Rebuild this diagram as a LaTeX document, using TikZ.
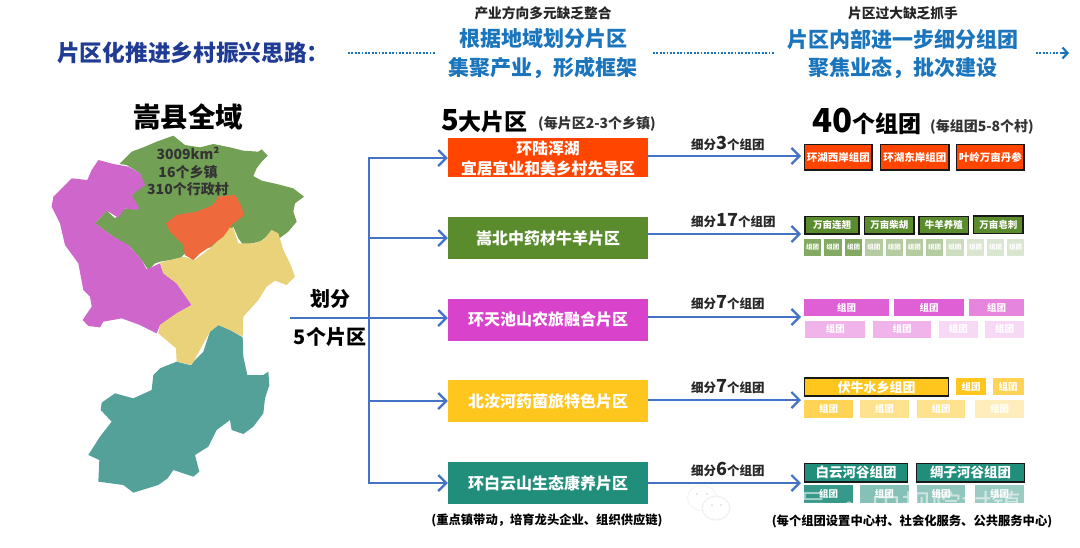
\documentclass[tikz,border=0pt]{standalone}
\usepackage{fontspec}
\setmainfont{Noto Sans CJK SC}
\usetikzlibrary{arrows.meta}
\newcommand{\fs}[1]{\fontsize{#1}{#1}\selectfont}
\definecolor{cblue}{HTML}{4472C4}
\definecolor{ctitle}{HTML}{1F3B94}
\definecolor{chead}{HTML}{1B75BC}
\definecolor{corange}{HTML}{FF4500}
\definecolor{cgreen}{HTML}{5A8C2E}
\definecolor{cmag}{HTML}{D943CC}
\definecolor{cyel}{HTML}{FFC61E}
\definecolor{cteal}{HTML}{218E7C}
\definecolor{mgreen}{HTML}{72A054}
\definecolor{mmag}{HTML}{CE66CB}
\definecolor{myel}{HTML}{EAD27B}
\definecolor{mor}{HTML}{EE6A3C}
\definecolor{mteal}{HTML}{54A19A}
\tikzset{
  zone/.style={fill=#1,minimum width=200pt,inner sep=0pt,text=white,font=\fs{16}\bfseries,align=center},
  txt/.style={inner sep=0pt,text=black,font=\fs{#1}\bfseries},
  link/.style={cblue,line width=2.2pt,-{Straight Barb[length=8pt,width=16pt,line width=2.2pt]}},
  trunk/.style={cblue,line width=2.2pt},
  dots/.style={chead,line width=2.4pt,dash pattern=on 1.8pt off 1.6pt},
  mapzone/.style={fill=#1,draw=none},
  head/.style={inner sep=0pt,text=chead,font=\fs{21}\bfseries},
  sub/.style={inner sep=0pt,text=black!85,font=\fs{13.7}\bfseries},
  maptxt/.style={inner sep=0pt,text=black!80,font=\fs{14}\bfseries}
}
% name, x1, x2, y1, y2, colour, text colour, font size, label
\newcommand{\grp}[9]{\node[fill=#6,text=#7,inner sep=0pt,font=\fs{#8}\bfseries,
  minimum width={(#3-#2)*1pt},minimum height={(#5-#4)*1pt}] (#1) at ({(#2+#3)/2},{(#4+#5)/2}) {#9};}
\newcommand{\grpb}[7]{\node[fill=#6,draw=black!90,line width=1.5pt,text=white,inner sep=0pt,font=\fs{#7}\bfseries,
  minimum width={(#3-#2)*1pt},minimum height={(#5-#4)*1pt}] (#1) at ({(#2+#3)/2},{(#4+#5)/2})}
\begin{document}
\begin{tikzpicture}[x=1pt,y=-1pt]
\useasboundingbox (0,0) rectangle (1080,547);
\fill[white] (0,0) rectangle (1080,547);

% header
\node[anchor=west,inner sep=0pt,text=ctitle,font=\fs{22.7}\bfseries] (title) at (57,53) {片区化推进乡村振兴思路：};
\node[sub] (s1) at (543,13) {产业方向多元缺乏整合};
\node[head] (h1) at (543,39) {根据地域划分片区};
\node[head] (h2) at (543,68) {集聚产业，形成框架};
\node[sub] (s2) at (903,13) {片区过大缺乏抓手};
\node[head] (h3) at (903,39) {片区内部进一步细分组团};
\node[head] (h4) at (903,68) {聚焦业态，批次建设};
\coordinate (d1a) at (348,53); \coordinate (d1b) at (436,53);
\coordinate (d2a) at (653,53); \coordinate (d2b) at (774,53);
\coordinate (d3a) at (1036,53); \coordinate (d3b) at (1069,53);
\draw[dots] (d1a) -- (d1b);
\draw[dots] (d2a) -- (d2b);
\draw[dots] (d3a) -- (1062,53);
\draw[chead,line width=2.2pt,-{Straight Barb[length=5pt,width=11pt,line width=2.2pt]}] (1060,53) -- (d3b);

% map
\begin{scope}[shift={(0,90)},x=0.33333pt,y=-0.33333pt]
\fill[mapzone=mteal] (655,705)--(690,720)--(728,742)--(730,800)--(742,855)--(790,855)--(805,845)--(808,885)--(795,925)--(790,970)--(760,1010)--(730,1032)--(695,1020)--(690,990)--(650,1020)--(625,1070)--(585,1095)--(598,1145)--(580,1160)--(520,1140)--(503,1165)--(475,1185)--(400,1208)--(370,1185)--(295,1175)--(298,1110)--(265,1095)--(300,1040)--(335,995)--(302,960)--(305,938)--(345,910)--(400,925)--(455,900)--(460,855)--(480,835)--(530,815)--(570,825)--(610,785)--(630,725)--cycle;
\fill[mapzone=mgreen] (358,222)--(395,185)--(430,172)--(470,155)--(520,137)--(555,165)--(600,172)--(640,162)--(690,172)--(730,182)--(775,185)--(785,178)--(803,197)--(785,215)--(770,235)--(760,258)--(785,272)--(830,282)--(880,295)--(912,320)--(885,340)--(880,365)--(890,395)--(865,425)--(838,445)--(815,420)--(800,440)--(780,455)--(730,465)--(715,445)--(700,410)--(640,470)--(555,490)--(540,505)--(480,515)--(465,520)--(445,540)--(425,510)--(390,470)--(340,440)--(285,400)--(320,362)--(345,385)--(375,355)--(410,358)--(395,315)--(430,285)--(420,250)--(380,225)--cycle;
\fill[mapzone=mmag] (295,210)--(340,222)--(385,230)--(420,250)--(435,285)--(395,315)--(418,355)--(405,360)--(375,355)--(355,383)--(320,362)--(285,400)--(340,440)--(385,465)--(425,510)--(440,538)--(480,520)--(490,550)--(530,580)--(575,645)--(530,670)--(480,705)--(470,730)--(420,705)--(365,685)--(310,695)--(300,712)--(265,708)--(248,690)--(275,650)--(270,620)--(250,600)--(235,520)--(195,465)--(180,400)--(155,350)--(160,320)--(215,265)--(262,270)--(275,240)--cycle;
\fill[mapzone=myel] (480,518)--(550,500)--(585,510)--(630,475)--(660,445)--(680,410)--(700,415)--(715,460)--(760,460)--(790,450)--(815,420)--(835,430)--(850,480)--(870,520)--(885,560)--(860,585)--(825,572)--(800,590)--(775,630)--(730,680)--(728,740)--(690,720)--(655,705)--(630,725)--(575,825)--(530,815)--(528,775)--(475,730)--(480,705)--(530,670)--(575,645)--(530,580)--(490,550)--cycle;
\fill[mapzone=mor] (655,320)--(705,315)--(722,345)--(733,375)--(695,405)--(670,440)--(630,470)--(600,490)--(580,510)--(555,495)--(550,465)--(510,425)--(498,400)--(530,375)--(590,365)--(640,345)--cycle;
\end{scope}
\node[txt=27.5] (county) at (188,117) {嵩县全域};
\node[maptxt] (m1) at (188,153) {3009km²};
\node[maptxt] (m2) at (188,172) {16个乡镇};
\node[maptxt] (m3) at (188,189) {310个行政村};
\node[txt=20] (div1) at (330,299) {划分};
\node[txt=20] (div2) at (330,337) {5个片区};

% zones
\node[zone=corange,minimum height=39pt] (b1) at (548,157.7) {};
\node[inner sep=0pt,text=white,font=\fs{15.8}\bfseries] (b1a) at (548,149) {环陆浑湖};
\node[inner sep=0pt,text=white,font=\fs{15.8}\bfseries] (b1b) at (548,168) {宜居宜业和美乡村先导区};
\node[zone=cgreen,minimum height=42pt] (b2) at (548,238) {嵩北中药材牛羊片区};
\node[zone=cmag,minimum height=42pt] (b3) at (548,319.5) {环天池山农旅融合片区};
\node[zone=cyel,minimum height=42pt] (b4) at (548,401) {北汝河药菌旅特色片区};
\node[zone=cteal,minimum height=42pt] (b5) at (548,483) {环白云山生态康养片区};

\node[anchor=base west,inner sep=0pt,font=\fs{23}\bfseries] (t5) at (441,130) {\fs{29}5\fs{23}大片区};
\node[anchor=west,inner sep=0pt,text=black!80,font=\fs{14}\bfseries] (t5b) at (538,124) {(每片区2-3个乡镇)};
\node[anchor=base west,inner sep=0pt,font=\fs{23}\bfseries] (t40) at (812,132) {\fs{33}40\fs{23}个组团};
\node[anchor=west,inner sep=0pt,text=black!80,font=\fs{14}\bfseries] (t40b) at (930,127) {(每组团5-8个村)};

% tree
\coordinate (stem) at (290,318);
\coordinate (top) at (369,158);
\coordinate (mid) at (369,318);
\coordinate (bot) at (369,483);
\coordinate (j2) at (369,238);
\coordinate (j4) at (369,401);
\draw[trunk] (stem) -- (mid);
\draw[link] (top) -- (b1.west |- top);
\draw[link] (j2) -- (b2.west);
\draw[link] (mid) -- (b3.west |- mid);
\draw[link] (j4) -- (b4.west);
\draw[link] (bot) -- (b5.west);
\draw[trunk] (369,157) -- (369,484);

% connectors to the groups
\coordinate (e1) at (801,156);
\coordinate (e2) at (801,234);
\coordinate (e3) at (801,317);
\coordinate (e4) at (801,400);
\coordinate (e5) at (801,483);
\draw[link] (b1.east |- e1) -- (e1);
\draw[link] (b2.east |- e2) -- (e2);
\draw[link] (b3.east |- e3) -- (e3);
\draw[link] (b4.east |- e4) -- (e4);
\draw[link] (b5.east |- e5) -- (e5);
\node[anchor=base west,inner sep=0pt,font=\fs{12.5}\bfseries,text=black!85] (f1) at (691,149) {细分{\fs{18}3}个组团};
\node[anchor=base west,inner sep=0pt,font=\fs{12.5}\bfseries,text=black!85] (f2) at (691,226) {细分{\fs{18}17}个组团};
\node[anchor=base west,inner sep=0pt,font=\fs{12.5}\bfseries,text=black!85] (f3) at (691,308) {细分{\fs{18}7}个组团};
\node[anchor=base west,inner sep=0pt,font=\fs{12.5}\bfseries,text=black!85] (f4) at (691,392) {细分{\fs{18}7}个组团};
\node[anchor=base west,inner sep=0pt,font=\fs{12.5}\bfseries,text=black!85] (f5) at (691,475) {细分{\fs{18}6}个组团};

% groups row 1
\grpb{g11}{804.5}{872}{144.5}{170}{corange}{10.5} {环湖西岸组团};
\grpb{g12}{880.5}{949}{144.5}{170}{corange}{10.5} {环湖东岸组团};
\grpb{g13}{956.5}{1024}{144.5}{170}{corange}{10.5} {叶岭万亩丹参};
% row 2
\grpb{g21}{805}{859}{216.5}{234}{cgreen}{9.5} {万亩连翘};
\grpb{g22}{864.5}{914}{216.5}{234}{cgreen}{9.5} {万亩柴胡};
\grpb{g23}{919}{968.5}{216.5}{234}{cgreen}{9.5} {牛羊养殖};
\grpb{g24}{973.5}{1023}{216}{233.5}{cgreen}{9.5} {万亩皂刺};
\grp{g31}{804}{821.3}{238.7}{256}{cgreen!75!white}{white}{6.5}{组团}
\grp{g32}{824.3}{841.6}{238.7}{256}{cgreen!75!white}{white}{6.5}{组团}
\grp{g33}{845}{862.3}{238.7}{256}{cgreen!75!white}{white}{6.5}{组团}
\grp{g34}{865.3}{882.6}{238.7}{256}{cgreen!45!white}{white}{6.5}{组团}
\grp{g35}{885.7}{903}{238.7}{256}{cgreen!45!white}{white}{6.5}{组团}
\grp{g36}{905.7}{923}{238.7}{256}{cgreen!45!white}{white}{6.5}{组团}
\grp{g37}{926}{943.3}{238.7}{256}{cgreen!45!white}{white}{6.5}{组团}
\grp{g38}{946.3}{963.6}{238.7}{256}{cgreen!30!white}{white}{6.5}{组团}
\grp{g39}{967}{984.3}{238.7}{256}{cgreen!22!white}{white}{6.5}{组团}
\grp{g310}{987}{1004.3}{238.7}{256}{cgreen!22!white}{white}{6.5}{组团}
\grp{g311}{1007.3}{1024}{238.7}{256}{cgreen!22!white}{white}{6.5}{组团}
% row 3
\grp{g41}{804}{889}{299}{316}{cmag!85!white}{white}{9.5}{组团}
\grp{g42}{894.3}{964}{299}{316}{cmag!85!white}{white}{9.5}{组团}
\grp{g43}{969.3}{1024}{299}{316}{cmag!65!white}{white}{9.5}{组团}
\grp{g44}{805.3}{865.3}{320.7}{338}{cmag!40!white}{white}{9.5}{组团}
\grp{g45}{872.7}{931.3}{320.7}{338}{cmag!40!white}{white}{9.5}{组团}
\grp{g46}{939}{977.7}{320.7}{338}{cmag!20!white}{white}{9.5}{组团}
\grp{g47}{985.3}{1024}{320.7}{338}{cmag!20!white}{white}{9.5}{组团}
% row 4
\grpb{g51}{804.5}{948.5}{378}{396}{cyel}{13} {伏牛水乡组团};
\grp{g52}{955.7}{986.3}{378}{395.3}{cyel}{white}{9.5}{组团}
\grp{g53}{992.7}{1023.7}{378}{395.3}{cyel!75!white}{white}{9.5}{组团}
\grp{g54}{804}{853}{400}{417.7}{cyel!75!white}{white}{9.5}{组团}
\grp{g55}{860}{908.7}{400}{417.7}{cyel!50!white}{white}{9.5}{组团}
\grp{g56}{916.7}{965.3}{400}{417.7}{cyel!50!white}{white}{9.5}{组团}
\grp{g57}{975.3}{1023.7}{400}{417.7}{cyel!30!white}{white}{9.5}{组团}
% row 5
\grpb{g61}{804.5}{907.5}{463.5}{482}{cteal}{13.5} {白云河谷组团};
\grpb{g62}{916.5}{1024.5}{463.5}{482}{cteal}{13.5} {绸子河谷组团};
\grp{g71}{804}{853}{485}{503}{cteal!90!white}{white}{9.5}{组团}
\grp{g72}{860}{908.7}{485}{503}{cteal!55!white}{white}{9.5}{组团}
\grp{g73}{916.7}{965.3}{485}{503}{cteal!50!white}{white}{9.5}{组团}
\grp{g74}{975.3}{1023.7}{485}{503}{cteal!45!white}{white}{9.5}{组团}

% watermark
\fill[black!4] (702,498) ellipse [x radius=15,y radius=13];
\fill[white] (702,498) ellipse [x radius=14,y radius=12];
\fill[black!5] (716,508) ellipse [x radius=14.5,y radius=12.5];
\fill[white] (716,508) ellipse [x radius=13,y radius=11];
\fill[black!12] (697,494) circle (1.2) (707,494) circle (1.2) (712,505) circle (1.2) (721,505) circle (1.2);
\node[anchor=west,inner sep=0pt,text=white,text opacity=0.55,font=\fs{30}] (wm) at (738,505) {公众号 · 中规院村镇所};

% notes
\node[txt=12.3] (n1) at (547,520) {(重点镇带动，培育龙头企业、组织供应链)};
\node[txt=12.3] (n2) at (912,521) {(每个组团设置中心村、社会化服务、公共服务中心)};
\end{tikzpicture}
\end{document}
